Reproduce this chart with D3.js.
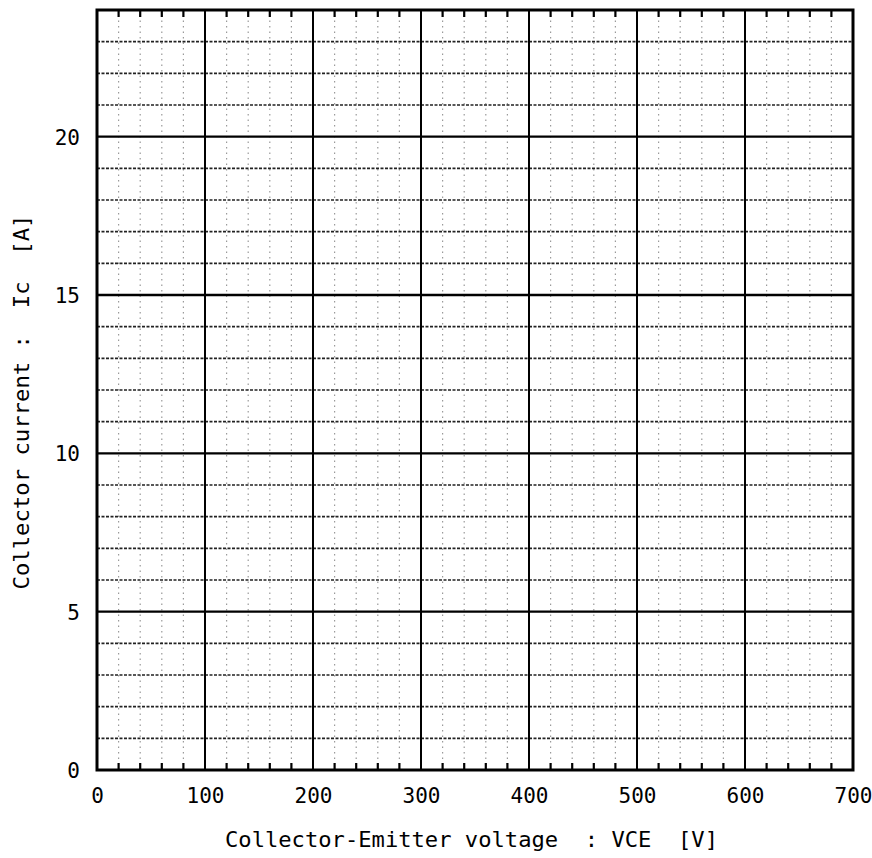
<!DOCTYPE html>
<html>
<head>
<meta charset="utf-8">
<script src="https://cdn.jsdelivr.net/npm/d3@7"></script>
<style>
  html, body { margin: 0; padding: 0; background: #fff; }
  svg { display: block; }
  text { font-family: "DejaVu Sans Mono", "Liberation Mono", monospace; fill: #000; }
</style>
</head>
<body>
<svg id="chart" width="872" height="858"></svg>
<script>
// ---- data (blank characteristic-curve graph paper) ----
const xDomain = [0, 700];          // VCE [V]
const yDomain = [0, 24];           // Ic [A]
const xTickLabels = [0, 100, 200, 300, 400, 500, 600, 700];
const yTickLabels = [0, 5, 10, 15, 20];
const xMinorStep = 20;             // V per minor division
const yMinorStep = 1;              // A per minor division
const xTitle = "Collector-Emitter voltage  : VCE  [V]";
const yTitle = "Collector current :  Ic  [A]";

// ---- layout ----
const svg = d3.select("#chart");
const L = 97, R = 853, T = 10, B = 770;

const x = d3.scaleLinear().domain(xDomain).range([L, R]);
const y = d3.scaleLinear().domain(yDomain).range([B, T]);

const xMinor = x.ticks((xDomain[1] - xDomain[0]) / xMinorStep).filter(v => !xTickLabels.includes(v));
const yMinor = y.ticks((yDomain[1] - yDomain[0]) / yMinorStep).filter(v => v % 5 !== 0);
const xMajorInner = xTickLabels.filter(v => v > xDomain[0] && v < xDomain[1]);
const yMajorInner = yTickLabels.filter(v => v > yDomain[0]);

const g = svg.append("g");

// minor vertical grid (faint dotted)
g.selectAll("line.xminor").data(xMinor).join("line")
  .attr("x1", d => x(d)).attr("x2", d => x(d))
  .attr("y1", y(yDomain[0])).attr("y2", y(yDomain[1]))
  .attr("stroke", "#9a9a9a").attr("stroke-width", 1.2)
  .attr("stroke-dasharray", "1.5 4");

// minor horizontal grid (dark dotted)
g.selectAll("line.yminor").data(yMinor).join("line")
  .attr("x1", L).attr("x2", R)
  .attr("y1", d => y(d)).attr("y2", d => y(d))
  .attr("stroke", "#222").attr("stroke-width", 1.6)
  .attr("stroke-dasharray", "3 1.5");

// major vertical grid
g.selectAll("line.xmajor").data(xMajorInner).join("line")
  .attr("x1", d => x(d)).attr("x2", d => x(d))
  .attr("y1", y(yDomain[0])).attr("y2", y(yDomain[1]))
  .attr("stroke", "#000").attr("stroke-width", 2);

// major horizontal grid
g.selectAll("line.ymajor").data(yMajorInner).join("line")
  .attr("x1", L).attr("x2", R)
  .attr("y1", d => y(d)).attr("y2", d => y(d))
  .attr("stroke", "#000").attr("stroke-width", 2.4);

// tick marks (inward) at bottom and top
const tickLen = 7;
g.selectAll("line.tb").data(xMinor).join("line")
  .attr("x1", d => x(d)).attr("x2", d => x(d))
  .attr("y1", B).attr("y2", B - tickLen)
  .attr("stroke", "#000").attr("stroke-width", 2.2);
g.selectAll("line.tt").data(xMinor).join("line")
  .attr("x1", d => x(d)).attr("x2", d => x(d))
  .attr("y1", T).attr("y2", T + tickLen)
  .attr("stroke", "#000").attr("stroke-width", 2.2);

// frame
g.append("rect")
  .attr("x", L).attr("y", T).attr("width", R - L).attr("height", B - T)
  .attr("fill", "none").attr("stroke", "#000").attr("stroke-width", 3);

// axis tick labels
const xAxis = d3.axisBottom(x).tickValues(xTickLabels).tickSize(0).tickPadding(0);
const gx = svg.append("g").attr("transform", `translate(0,${B + 26})`).call(xAxis);
gx.select(".domain").remove();
gx.selectAll("text").attr("font-size", 21).attr("dy", "0.35em")
  .attr("font-family", "'DejaVu Sans Mono', monospace");

const yAxis = d3.axisLeft(y).tickValues(yTickLabels).tickSize(0).tickPadding(0);
const gy = svg.append("g").attr("transform", `translate(${L - 17},0)`).call(yAxis);
gy.select(".domain").remove();
gy.selectAll("text").attr("font-size", 21).attr("dy", "0.35em")
  .attr("font-family", "'DejaVu Sans Mono', monospace");

// titles
svg.append("text")
  .attr("x", 471.5).attr("y", 847)
  .attr("text-anchor", "middle")
  .attr("font-size", 22)
  .attr("textLength", 493).attr("lengthAdjust", "spacingAndGlyphs")
  .attr("xml:space", "preserve")
  .style("white-space", "pre")
  .text(xTitle);

svg.append("text")
  .attr("transform", "translate(29,402) rotate(-90)")
  .attr("text-anchor", "middle")
  .attr("font-size", 22)
  .attr("textLength", 375).attr("lengthAdjust", "spacingAndGlyphs")
  .style("white-space", "pre")
  .text(yTitle);
</script>
</body>
</html>
